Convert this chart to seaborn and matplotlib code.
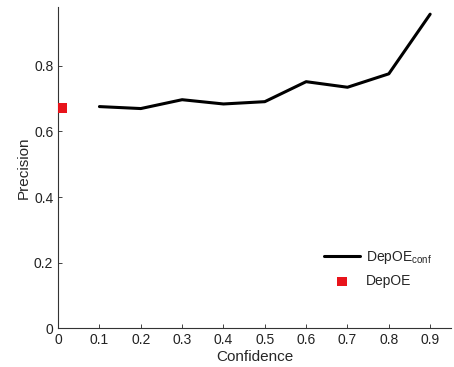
import matplotlib
matplotlib.use("Agg")
import matplotlib.pyplot as plt
import seaborn as sns
import pandas as pd

confidence = [0.1, 0.2, 0.3, 0.4, 0.5, 0.6, 0.7, 0.8, 0.9]
precision_conf = [0.676, 0.670, 0.697, 0.684, 0.691, 0.752, 0.735, 0.776, 0.958]
depoe_x = [0.01]
depoe_y = [0.672]
xticks = [0, 0.1, 0.2, 0.3, 0.4, 0.5, 0.6, 0.7, 0.8, 0.9]
yticks = [0, 0.2, 0.4, 0.6, 0.8]

sns.set_style("ticks")
plt.rcParams['font.family'] = ['Liberation Sans', 'DejaVu Sans']

fig = plt.figure(figsize=(4.54, 3.67), dpi=100)
ax = fig.add_axes([0.128, 0.106, 0.865, 0.875])

df = pd.DataFrame({"Confidence": confidence, "Precision": precision_conf})
sns.lineplot(data=df, x="Confidence", y="Precision", ax=ax, color="black",
             linewidth=2.2, label=r"DepOE$_{\mathregular{conf}}$")
sns.scatterplot(x=depoe_x, y=depoe_y, ax=ax, color="#e8141b", marker="s", s=45,
                edgecolor="none", label="DepOE", zorder=5, clip_on=False)

ax.set_xlim(0, 0.95)
ax.set_ylim(0, 0.98)
ax.set_xticks(xticks)
ax.set_xticklabels([f"{t:g}" for t in xticks])
ax.set_yticks(yticks)
ax.set_yticklabels([f"{t:g}" for t in yticks])
ax.tick_params(direction="in", length=3, labelsize=10, colors="#222222", width=0.6)
ax.set_xlabel("Confidence", fontsize=11, labelpad=2)
ax.set_ylabel("Precision", fontsize=11, labelpad=2)
for s in ["top", "right"]:
    ax.spines[s].set_visible(False)
for s in ["left", "bottom"]:
    ax.spines[s].set_linewidth(0.8)
    ax.spines[s].set_color("#333333")

leg = ax.legend(loc="upper left", bbox_to_anchor=(0.645, 0.285), frameon=False,
                fontsize=10, handlelength=2.6, handletextpad=0.4, labelspacing=0.6)

fig.savefig("out.png", dpi=100)
